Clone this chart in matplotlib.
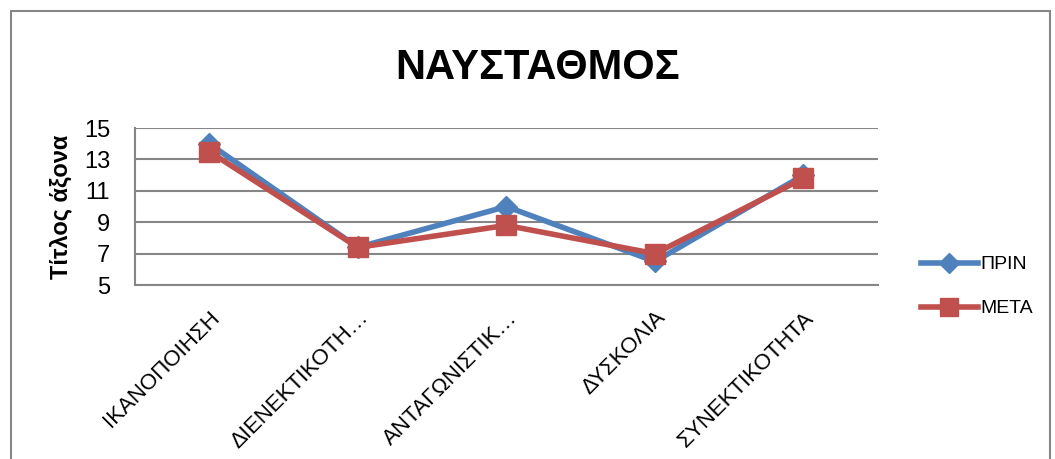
import matplotlib.pyplot as plt
from matplotlib.patches import Rectangle

categories = ['ΙΚΑΝΟΠΟΙΗΣΗ', 'ΔΙΕΝΕΚΤΙΚΟΤΗ…', 'ΑΝΤΑΓΩΝΙΣΤΙΚ…', 'ΔΥΣΚΟΛΙΑ', 'ΣΥΝΕΚΤΙΚΟΤΗΤΑ']
prin = [14.0, 7.4, 10.0, 6.5, 12.0]
meta = [13.5, 7.4, 8.8, 7.0, 11.8]
yticks = [5, 7, 9, 11, 13, 15]

plt.rcParams['font.family'] = ['Liberation Sans', 'DejaVu Sans']

fig = plt.figure(figsize=(10.55, 4.59), dpi=100)
ax = fig.add_axes([0.128, 0.379, 0.704, 0.342])

# outer chart frame
fig.patches.append(Rectangle((0.010, -0.02), 0.985, 0.995, transform=fig.transFigure,
                             fill=False, edgecolor='#868686', linewidth=1.5))

x = list(range(len(categories)))
ax.plot(x, prin, color='#4F81BD', linewidth=4, marker='D', markersize=11,
        label='ΠΡΙΝ', zorder=3)
ax.plot(x, meta, color='#C0504D', linewidth=4, marker='s', markersize=14,
        label='ΜΕΤΑ', zorder=4)

ax.set_xlim(-0.5, 4.5)
ax.set_ylim(5, 15)
ax.set_yticks(yticks)
ax.set_yticklabels([str(v) for v in yticks], fontsize=17)
ax.set_xticks(x)
ax.set_xticklabels(categories, rotation=45, ha='right', rotation_mode='anchor', fontsize=16)
ax.tick_params(axis='y', length=0, pad=18)
ax.tick_params(axis='x', length=0, pad=16)

ax.grid(axis='y', color='#868686', linewidth=1.5)
ax.set_axisbelow(True)
for side in ['top', 'right']:
    ax.spines[side].set_visible(False)
ax.spines['left'].set_color('#868686')
ax.spines['bottom'].set_color('#868686')
ax.spines['left'].set_linewidth(1.5)
ax.spines['bottom'].set_linewidth(1.5)

ax.set_ylabel('Τίτλος άξονα', fontsize=17, fontweight='bold', labelpad=8)
fig.text(0.510, 0.852, 'ΝΑΥΣΤΑΘΜΟΣ', fontsize=30, fontweight='bold', ha='center', va='center')

ax.legend(loc='center left', bbox_to_anchor=(1.035, -0.01), frameon=False, fontsize=14,
          handlelength=2.9, handletextpad=0.15, labelspacing=1.35, markerscale=0.9)

fig.savefig('out.png', dpi=100)
